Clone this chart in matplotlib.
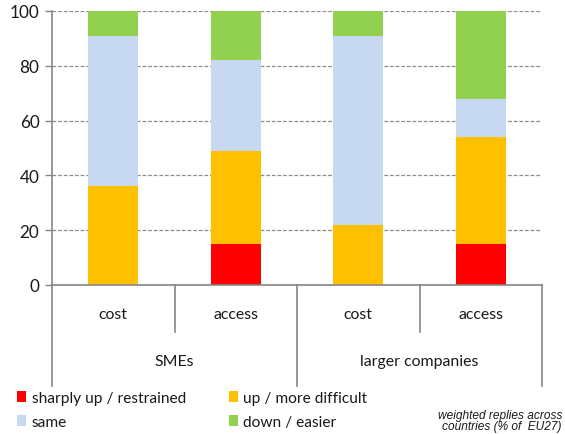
import matplotlib
matplotlib.use("Agg")
import matplotlib.pyplot as plt
from matplotlib.patches import Patch
import numpy as np

plt.rcParams['font.family'] = ['Lato', 'DejaVu Sans']

items = ["cost", "access", "cost", "access"]
groups = ["SMEs", "larger companies"]
sharply_up = [0, 15, 0, 15]
up = [36, 34, 22, 39]
same = [55, 33, 69, 14]
down = [9, 18, 9, 32]
series_names = ["sharply up / restrained", "up / more difficult", "same", "down / easier"]
colors = ["#FF0000", "#FFC000", "#C6D9F1", "#92D050"]
yticks = [0, 20, 40, 60, 80, 100]

fig = plt.figure(figsize=(5.65, 4.35), dpi=100)
ax = fig.add_axes([52 / 565, 1 - 286 / 435, 490 / 565, 274 / 435])

x = np.arange(len(items))
bottom = np.zeros(len(items))
handles = []
for vals, col, name in zip([sharply_up, up, same, down], colors, series_names):
    ax.bar(x, vals, width=0.41, bottom=bottom, color=col, edgecolor="none", zorder=3)
    bottom += np.array(vals)
    handles.append(Patch(facecolor=col, edgecolor="none", label=name))

ax.set_xlim(-0.5, len(items) - 0.5)
ax.set_ylim(0, 100)
ax.set_yticks(yticks)
ax.set_xticks([])
ax.tick_params(axis="y", length=5, width=1, color="#868686", labelsize=12.3, labelcolor="#1a1a1a", pad=4)
ax.yaxis.grid(True, linestyle=(0, (3, 1.5)), color="#8c8c8c", linewidth=0.9, zorder=0)
for s in ["top", "right"]:
    ax.spines[s].set_visible(False)
for s in ["left", "bottom"]:
    ax.spines[s].set_color("#868686")
    ax.spines[s].set_linewidth(1.2)
    ax.spines[s].set_zorder(4)

# category dividers below the axis
trans = ax.get_xaxis_transform()
inner_bottom = -47 / 274
outer_bottom = -101 / 274
for b in np.arange(-0.5, len(items), 1.0):
    is_outer = abs((b + 0.5) % 2) < 1e-9
    yb = outer_bottom if is_outer else inner_bottom
    ax.plot([b, b], [0, yb], transform=trans, color="#868686", lw=1.2, clip_on=False)

for xi, lab in zip(x, items):
    ax.text(xi, -29 / 274, lab, transform=trans, ha="center", va="center", fontsize=11.4, color="#1a1a1a")
for gi, g in enumerate(groups):
    ax.text(2 * gi + 0.5, -76 / 274, g, transform=trans, ha="center", va="center", fontsize=11.4, color="#1a1a1a")

leg = fig.legend(handles=[handles[0], handles[2], handles[1], handles[3]], ncol=2,
                 loc="upper left", bbox_to_anchor=(6 / 565, 1 - 381 / 435), frameon=False,
                 fontsize=11.2, handlelength=0.6, handleheight=0.75, handletextpad=0.35,
                 columnspacing=2.75, labelspacing=0.62, borderpad=0.2)
for t in leg.get_texts():
    t.set_color("#1a1a1a")

note_font = ["Liberation Sans", "DejaVu Sans"]
fig.text(562 / 565, 1 - 416 / 435, "weighted replies across", ha="right", va="center",
         fontsize=8.6, style="italic", color="#1a1a1a", family=note_font)
fig.text(562 / 565, 1 - 427 / 435, "countries (% of  EU27)", ha="right", va="center",
         fontsize=8.6, style="italic", color="#1a1a1a", family=note_font)

fig.savefig("out.png", dpi=100)
